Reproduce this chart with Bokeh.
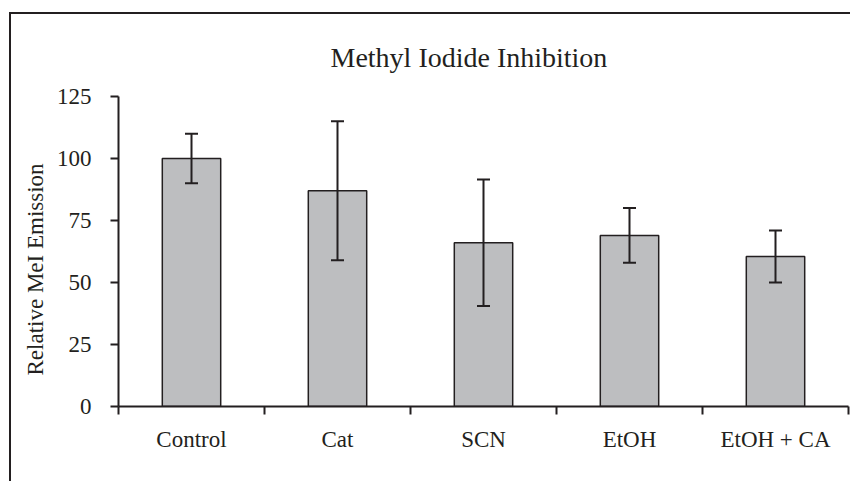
from bokeh.plotting import figure
from bokeh.models import ColumnDataSource, Range1d, FixedTicker, Whisker, TeeHead, Title
from bokeh.embed import file_html
from bokeh.resources import INLINE

categories = ["Control", "Cat", "SCN", "EtOH", "EtOH + CA"]
values = [100, 87, 66, 69, 60.5]
errors = [10, 28, 25.5, 11, 10.5]
y_ticks = [0, 25, 50, 75, 100, 125]

INK = "#231f20"
FONT = "Liberation Serif"

xpos = [i + 0.5 for i in range(len(categories))]
src = ColumnDataSource(dict(
    x=xpos, top=values,
    upper=[v + e for v, e in zip(values, errors)],
    lower=[v - e for v, e in zip(values, errors)],
    name=categories,
))

p = figure(width=841, height=469, output_backend="svg", toolbar_location=None,
           x_range=Range1d(0, len(categories)), y_range=Range1d(0, 125),
           min_border_left=107, min_border_right=4, min_border_top=82, min_border_bottom=77,
           title=None)
p.margin = (12, 0, 0, 9)
p.styles = {"border-left": f"2px solid {INK}", "border-top": f"2px solid {INK}"}
p.grid.visible = False
p.outline_line_color = None
p.background_fill_color = "white"
p.border_fill_color = "white"

p.vbar(x="x", top="top", bottom=0, width=0.4, source=src,
       fill_color="#bdbec0", line_color=INK, line_width=1.5)

w = Whisker(source=src, base="x", upper="upper", lower="lower",
            line_color=INK, line_width=2, level="annotation",
            upper_head=TeeHead(size=13, line_color=INK, line_width=2),
            lower_head=TeeHead(size=13, line_color=INK, line_width=2))
p.add_layout(w)

t = Title(text="Methyl Iodide Inhibition", align="left", offset=212, standoff=48,
          text_font=FONT, text_font_size="28px", text_font_style="normal", text_color=INK)
p.add_layout(t, "above")

yt = Title(text="Relative MeI Emission", align="left", offset=31, standoff=12,
           text_font=FONT, text_font_size="23px", text_font_style="normal", text_color=INK)
p.add_layout(yt, "left")

xa = p.xaxis[0]
xa.ticker = FixedTicker(ticks=xpos, minor_ticks=list(range(len(categories) + 1)))
xa.major_label_overrides = {x: c for x, c in zip(xpos, categories)}
xa.major_tick_line_color = None
xa.major_tick_out = 0
xa.major_tick_in = 0
xa.minor_tick_out = 8
xa.minor_tick_in = 0
xa.minor_tick_line_width = 2
xa.minor_tick_line_color = INK
xa.axis_line_width = 2
xa.axis_line_color = INK
xa.major_label_standoff = 12
xa.major_label_text_font = FONT
xa.major_label_text_font_size = "23px"
xa.major_label_text_color = INK

ya = p.yaxis[0]
ya.ticker = FixedTicker(ticks=y_ticks)
ya.major_tick_out = 8
ya.major_tick_in = 0
ya.major_tick_line_width = 2
ya.major_tick_line_color = INK
ya.minor_tick_line_color = None
ya.axis_line_width = 2
ya.axis_line_color = INK
ya.major_label_standoff = 19
ya.major_label_text_font = FONT
ya.major_label_text_font_size = "23px"
ya.major_label_text_color = INK

open("out.html", "w").write(file_html(p, INLINE))
